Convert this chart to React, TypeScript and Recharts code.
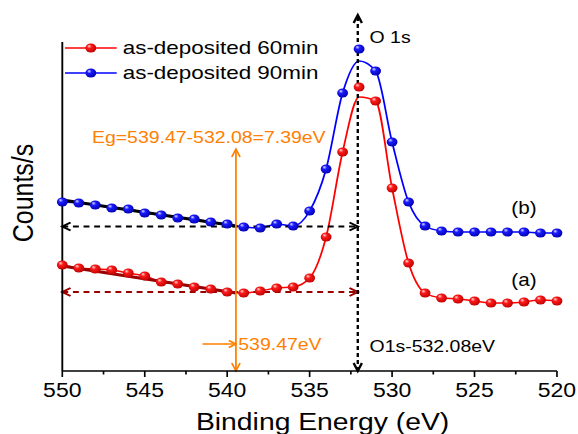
import React from "react";
import { ComposedChart, Line, XAxis, YAxis, ReferenceLine, ReferenceDot, Legend } from "recharts";

// O 1s spectra, binding energy in eV (1 eV steps), counts in arbitrary units
const energies = [550, 549, 548, 547, 546, 545, 544, 543, 542, 541, 540, 539, 538, 537, 536, 535, 534, 533, 532, 531, 530, 529, 528, 527, 526, 525, 524, 523, 522, 521, 520];
const counts60 = [106, 103, 102, 101, 98, 95, 89, 87, 84, 82, 79, 78, 80, 83, 84, 93, 134, 219, 284, 270, 183, 108, 78, 73, 72, 70, 68, 68, 69, 71, 70];
const counts90 = [169, 168, 166, 163, 162, 158, 156, 153, 152, 149, 147, 144, 143, 147, 145, 160, 202, 278, 322, 300, 229, 169, 145, 140, 139, 139, 139, 139, 139, 138, 138];

// the fitted envelopes sit a little below the top data point
const peakEnergy = 532;
const peakFit60 = 274;
const peakFit90 = 310;

// linear background fits on the high-energy side
const bgFitX = [550, 539.47];
const bgFit60 = [105, 78];
const bgFit90 = [171, 145];

// baselines, O 1s position and onset
const baseline60 = 79;
const baseline90 = 144.5;
const o1sEnergy = 532.08;
const onsetEnergy = 539.47;
const o1sArrowTop = 356;
const egArrowTop = 222;
const onsetMarkFrom = 541.5;
const onsetMarkY = 27;

const xTicks = [550, 547.5, 545, 542.5, 540, 537.5, 535, 532.5, 530, 527.5, 525, 522.5, 520];
const yTicks = [166, 329];
const seriesNames = ["as-deposited 60min", "as-deposited 90min"];
const seriesColors = ["#ff0000", "#0000ff"];
const ballIds = ["ball60", "ball90"];
const curveTags = [
  { text: "(b)", x: 522, y: 163 },
  { text: "(a)", x: 522, y: 91 },
];

const FONT = '"Liberation Sans", Arial, Helvetica, sans-serif';
const ORANGE = "#ff8000";
const DARK_RED = "#990000";
const STRETCH = 1.18;

const pts60 = energies.map((e, i) => ({ x: e, y: counts60[i] }));
const pts90 = energies.map((e, i) => ({ x: e, y: counts90[i] }));
const fit60 = energies.map((e, i) => ({ x: e, y: e === peakEnergy ? peakFit60 : counts60[i] }));
const fit90 = energies.map((e, i) => ({ x: e, y: e === peakEnergy ? peakFit90 : counts90[i] }));

type Seg = { x1: number; y1: number; x2: number; y2: number };

const chevron = (x: number, y: number, ux: number, uy: number, len: number, half: number, color: string, w: number) => {
  const bx = x - ux * len;
  const by = y - uy * len;
  return (
    <polyline
      points={`${bx - uy * half},${by + ux * half} ${x},${y} ${bx + uy * half},${by - ux * half}`}
      fill="none"
      stroke={color}
      strokeWidth={w}
    />
  );
};

const arrow =
  (o: { color: string; width: number; dash?: string; both?: boolean; len: number; half: number; extra?: (s: Seg) => React.ReactNode }) =>
  (p: any) => {
    const { x1, y1, x2, y2 } = p as Seg;
    const d = Math.hypot(x2 - x1, y2 - y1) || 1;
    const ux = (x2 - x1) / d;
    const uy = (y2 - y1) / d;
    return (
      <g>
        <line x1={x1} y1={y1} x2={x2} y2={y2} stroke={o.color} strokeWidth={o.width} strokeDasharray={o.dash} />
        {chevron(x2, y2, ux, uy, o.len, o.half, o.color, o.width)}
        {o.both && chevron(x1, y1, -ux, -uy, o.len, o.half, o.color, o.width)}
        {o.extra && o.extra({ x1, y1, x2, y2 })}
      </g>
    );
  };

const note = (x: number, y: number, text: string, color: string, anchor: "start" | "middle" = "start") => (
  <text x={x} y={y} fill={color} fontSize={16.5} fontFamily={FONT} textAnchor={anchor}>
    {text}
  </text>
);

const ball = (id: string) => (p: any) =>
  p.cx == null ? <g key={p.key} /> : <circle key={p.key} cx={p.cx} cy={p.cy} r={4.6} fill={`url(#${id})`} />;

const XTick = (p: any) => {
  const v = p.payload.value;
  const major = v % 5 === 0;
  return (
    <g>
      <line x1={p.x} y1={p.y} x2={p.x} y2={p.y + (major ? 6 : 3.5)} stroke="#000" strokeWidth={1.4} />
      {major && (
        <text x={p.x} y={p.y + 26} textAnchor="middle" fontSize={19.5} fill="#000" fontFamily={FONT}>
          {v}
        </text>
      )}
    </g>
  );
};

const XTitle = (p: any) => {
  const vb = p.viewBox;
  return (
    <text x={vb.x + vb.width / 2 + 11} y={vb.y + 59} textAnchor="middle" fontSize={24} fill="#000" fontFamily={FONT}>
      Binding Energy (eV)
    </text>
  );
};

const YTitle = (p: any) => {
  const vb = p.viewBox;
  const cx = 19.5;
  const cy = vb.y + vb.height / 2 - 13.5;
  return (
    <text
      x={cx}
      y={cy}
      transform={`rotate(-90 ${cx} ${cy})`}
      textAnchor="middle"
      dominantBaseline="central"
      fontSize={25}
      fill="#000"
      fontFamily={FONT}
    >
      Counts/s
    </text>
  );
};

const LegendBox = () => (
  <div style={{ fontFamily: FONT, fontSize: 19, color: "#000" }}>
    {seriesNames.map((name, i) => (
      <div key={name} style={{ display: "flex", alignItems: "center", height: 25 }}>
        <svg width={44} height={14}>
          <line x1={0} y1={7} x2={44} y2={7} stroke={seriesColors[i]} strokeWidth={1.5} />
          <circle cx={22} cy={7} r={4.6} fill={`url(#${ballIds[i]})`} />
        </svg>
        <span style={{ marginLeft: 5, whiteSpace: "nowrap" }}>{name}</span>
      </div>
    ))}
  </div>
);

export default function App() {
  return (
    <div
      style={{
        position: "absolute",
        left: 0,
        top: 0,
        width: 490,
        height: 434,
        transform: `scaleX(${STRETCH})`,
        transformOrigin: "0 0",
        fontFamily: FONT,
        background: "#fff",
      }}
    >
      <ComposedChart width={490} height={434} margin={{ top: 42, right: 18, bottom: 0, left: 17.8 }}>
        <defs>
          <radialGradient id="ball60" cx="0.45" cy="0.45" r="0.6" fx="0.32" fy="0.28">
            <stop offset="0" stopColor="#ffe4e4" />
            <stop offset="0.35" stopColor="#ff1a1a" />
            <stop offset="1" stopColor="#b80000" />
          </radialGradient>
          <radialGradient id="ball90" cx="0.45" cy="0.45" r="0.6" fx="0.32" fy="0.28">
            <stop offset="0" stopColor="#e4e4ff" />
            <stop offset="0.35" stopColor="#1a1aff" />
            <stop offset="1" stopColor="#0000a8" />
          </radialGradient>
        </defs>
        <XAxis
          type="number"
          dataKey="x"
          domain={[520, 550]}
          reversed
          ticks={xTicks}
          interval={0}
          height={63}
          tickSize={0}
          tickMargin={0}
          tickLine={false}
          axisLine={{ stroke: "#000", strokeWidth: 1.6 }}
          tick={<XTick />}
          label={<XTitle />}
        />
        <YAxis
          type="number"
          domain={[0, 329]}
          width={35}
          ticks={yTicks}
          tick={false}
          tickSize={5}
          axisLine={{ stroke: "#000", strokeWidth: 1.6 }}
          tickLine={{ stroke: "#000", strokeWidth: 1.4 }}
          label={<YTitle />}
        />
        <Legend
          layout="vertical"
          align="center"
          verticalAlign="middle"
          wrapperStyle={{ top: 35.5, left: 55 }}
          content={() => <LegendBox />}
        />

        <Line data={fit90} dataKey="y" type="monotone" stroke={seriesColors[1]} strokeWidth={1.5} dot={false} activeDot={false} isAnimationActive={false} />
        <Line data={fit60} dataKey="y" type="monotone" stroke={seriesColors[0]} strokeWidth={1.5} dot={false} activeDot={false} isAnimationActive={false} />
        <Line data={pts90} dataKey="y" stroke="none" dot={ball(ballIds[1])} activeDot={false} isAnimationActive={false} />
        <Line data={pts60} dataKey="y" stroke="none" dot={ball(ballIds[0])} activeDot={false} isAnimationActive={false} />

        {/* linear background fits */}
        <ReferenceLine
          segment={[{ x: bgFitX[0], y: bgFit90[0] }, { x: bgFitX[1], y: bgFit90[1] }]}
          stroke="#000"
          strokeWidth={3}
          ifOverflow="visible"
        />
        <ReferenceLine
          segment={[{ x: bgFitX[0], y: bgFit60[0] }, { x: bgFitX[1], y: bgFit60[1] }]}
          stroke={DARK_RED}
          strokeWidth={3}
          ifOverflow="visible"
        />

        {/* baselines running to the O 1s line */}
        <ReferenceLine
          segment={[{ x: 550, y: baseline90 }, { x: o1sEnergy, y: baseline90 }]}
          ifOverflow="visible"
          shape={arrow({ color: "#000", width: 2, dash: "5 4", both: true, len: 7, half: 4 })}
        />
        <ReferenceLine
          segment={[{ x: 550, y: baseline60 }, { x: o1sEnergy, y: baseline60 }]}
          ifOverflow="visible"
          shape={arrow({ color: DARK_RED, width: 2, dash: "5 4", both: true, len: 7, half: 4 })}
        />

        {/* O 1s position */}
        <ReferenceLine
          segment={[{ x: o1sEnergy, y: 0 }, { x: o1sEnergy, y: o1sArrowTop }]}
          ifOverflow="visible"
          shape={arrow({
            color: "#000",
            width: 2,
            dash: "4 3",
            both: true,
            len: 8,
            half: 3.5,
            extra: (s) => (
              <g>
                {note(s.x2 + 10, s.y2 + 27.7, "O 1s", "#000")}
                {note(s.x1 + 10, s.y1 - 19, "O1s-532.08eV", "#000")}
              </g>
            ),
          })}
        />

        {/* band-gap onset */}
        <ReferenceLine
          segment={[{ x: onsetEnergy, y: 0 }, { x: onsetEnergy, y: egArrowTop }]}
          ifOverflow="visible"
          shape={arrow({
            color: ORANGE,
            width: 1.5,
            both: true,
            len: 8,
            half: 3.5,
            extra: (s) => note(s.x2 - 23, s.y2 - 5.5, "Eg=539.47-532.08=7.39eV", ORANGE, "middle"),
          })}
        />
        <ReferenceLine
          segment={[{ x: onsetMarkFrom, y: onsetMarkY }, { x: onsetEnergy, y: onsetMarkY }]}
          ifOverflow="visible"
          shape={arrow({
            color: ORANGE,
            width: 1.5,
            len: 6,
            half: 3.5,
            extra: (s) => note(s.x2 + 2, s.y2 + 6, "539.47eV", ORANGE),
          })}
        />

        {curveTags.map((t) => (
          <ReferenceDot
            key={t.text}
            x={t.x}
            y={t.y}
            r={0}
            ifOverflow="visible"
            label={{ value: t.text, position: "center", fontSize: 17.5, fill: "#000", fontFamily: FONT }}
          />
        ))}
      </ComposedChart>
    </div>
  );
}
